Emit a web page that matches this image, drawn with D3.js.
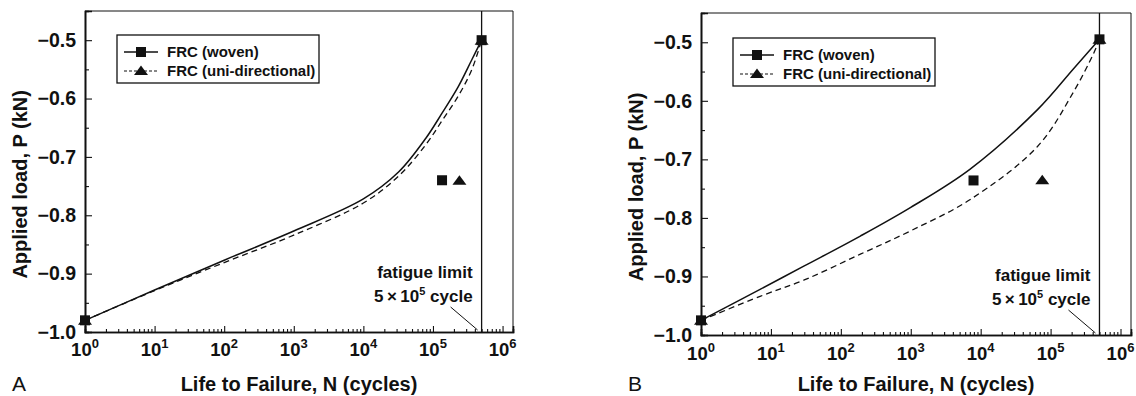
<!DOCTYPE html>
<html>
<head>
<meta charset="utf-8">
<script src="https://cdn.jsdelivr.net/npm/d3@7"></script>
<style>
  body { margin: 0; background: #fff; }
  svg { display: block; font-family: "Liberation Sans", Arial, sans-serif; }
</style>
</head>
<body>
<svg id="chart" width="1136" height="396"></svg>
<script>
// axis ticks
const xTickExps = [0, 1, 2, 3, 4, 5, 6];
const yTickValues = [-1.0, -0.9, -0.8, -0.7, -0.6, -0.5];
const yTickLabels = ["-1.0", "-0.9", "-0.8", "-0.7", "-0.6", "-0.5"];
const legendLabels = ["FRC (woven)", "FRC (uni-directional)"];
const fatigueLimitN = 5e5;

// panel A curves (N cycles, P kN)
const aWovenN = [1, 10, 100, 1000, 10000, 32000, 79000, 135000, 230000, 360000, 500000];
const aWovenP = [-0.98, -0.928, -0.877, -0.827, -0.772, -0.726, -0.668, -0.625, -0.580, -0.534, -0.50];
const aUniN = [1, 10, 100, 1000, 10000, 32000, 79000, 135000, 230000, 360000, 500000];
const aUniP = [-0.98, -0.929, -0.881, -0.834, -0.779, -0.733, -0.679, -0.638, -0.596, -0.551, -0.50];
// panel A markers
const aWovenMarkN = [1, 135000, 500000];
const aWovenMarkP = [-0.98, -0.74, -0.50];
const aUniMarkN = [1, 240000, 500000];
const aUniMarkP = [-0.98, -0.74, -0.50];

// panel B curves
const bWovenN = [1, 7, 30, 190, 1000, 7000, 65000, 210000, 500000];
const bWovenP = [-0.975, -0.922, -0.882, -0.831, -0.782, -0.717, -0.615, -0.546, -0.495];
const bUniN = [1, 7, 30, 190, 1000, 7000, 65000, 210000, 420000, 500000];
const bUniP = [-0.975, -0.934, -0.906, -0.862, -0.822, -0.769, -0.678, -0.586, -0.517, -0.495];
// panel B markers
const bWovenMarkN = [1, 7900, 500000];
const bWovenMarkP = [-0.975, -0.736, -0.495];
const bUniMarkN = [1, 76000, 500000];
const bUniMarkP = [-0.975, -0.735, -0.495];

const svg = d3.select("#chart");
const triPath = "M-7,4.5L7,4.5L0,-5Z";

function zip(ns, ps) { return ns.map((n, i) => ({ n: n, p: ps[i] })); }

function drawPanel(cfg) {
  const w = cfg.width, h = cfg.height;
  const g = svg.append("g").attr("transform", "translate(" + cfg.left + "," + cfg.top + ")");

  const x = d3.scaleLog().domain([1, Math.pow(10, 6.15)]).range([0, w]);
  const y = d3.scaleLinear().domain([-1.0, -0.45]).range([h, 0]);

  // frame: top and right
  g.append("line").attr("x1", 0).attr("x2", w).attr("y1", 0).attr("y2", 0)
    .attr("stroke", "#111").attr("stroke-width", 1);
  g.append("line").attr("x1", w).attr("x2", w).attr("y1", 0).attr("y2", h)
    .attr("stroke", "#111").attr("stroke-width", 1);

  // x axis, ticks inward
  const minorX = [];
  for (let k = 0; k < 6; k++) for (let m = 2; m <= 9; m++) minorX.push(m * Math.pow(10, k));
  const xMinor = g.append("g").attr("transform", "translate(0," + h + ")")
    .call(d3.axisBottom(x).tickValues(minorX).tickSize(-3).tickFormat(""));
  const xMajor = g.append("g").attr("transform", "translate(0," + h + ")")
    .call(d3.axisBottom(x).tickValues(xTickExps.map(e => Math.pow(10, e))).tickSize(-6).tickFormat(""));
  [xMinor, xMajor].forEach(a => {
    a.select(".domain").attr("stroke", "#111").attr("stroke-width", 1.6);
    a.selectAll(".tick line").attr("stroke", "#111").attr("stroke-width", 1.1);
  });

  xTickExps.forEach(e => {
    const t = g.append("text")
      .attr("x", x(Math.pow(10, e)))
      .attr("y", h + cfg.xLabelDy)
      .attr("text-anchor", "middle")
      .attr("font-weight", "bold")
      .attr("font-size", 18.5)
      .attr("fill", "#111");
    t.append("tspan").text("10");
    t.append("tspan").attr("font-size", 13).attr("dy", -8).text(e);
  });

  // y axis, ticks inward
  const yMinor = g.append("g")
    .call(d3.axisLeft(y).tickValues([-0.95, -0.85, -0.75, -0.65, -0.55]).tickSize(-4).tickFormat(""));
  const yMajor = g.append("g")
    .call(d3.axisLeft(y).tickValues(yTickValues).tickSize(-7).tickPadding(9)
      .tickFormat((d, i) => yTickLabels[i].replace("-", "\u2212")));
  [yMinor, yMajor].forEach(a => {
    a.select(".domain").attr("stroke", "#111").attr("stroke-width", 1.6);
    a.selectAll(".tick line").attr("stroke", "#111").attr("stroke-width", 1.1);
  });
  yMajor.selectAll(".tick text")
    .attr("font-family", "'Liberation Sans', Arial, sans-serif")
    .attr("font-weight", "bold").attr("font-size", 19.5).attr("fill", "#111");

  // fatigue limit vertical line
  const xf = x(fatigueLimitN);
  g.append("line").attr("x1", xf).attr("x2", xf).attr("y1", 0).attr("y2", h)
    .attr("stroke", "#111").attr("stroke-width", 1.3);

  // curves
  const line = d3.line().x(d => x(d.n)).y(d => y(d.p)).curve(d3.curveCatmullRom.alpha(0.5));
  g.append("path").datum(zip(cfg.wovenN, cfg.wovenP))
    .attr("d", line).attr("fill", "none").attr("stroke", "#111").attr("stroke-width", 1.5);
  g.append("path").datum(zip(cfg.uniN, cfg.uniP))
    .attr("d", line).attr("fill", "none").attr("stroke", "#111").attr("stroke-width", 1.3)
    .attr("stroke-dasharray", "6,4");

  // markers
  g.selectAll(null).data(zip(cfg.uniMarkN, cfg.uniMarkP)).enter().append("path")
    .attr("d", triPath)
    .attr("transform", d => "translate(" + x(d.n) + "," + y(d.p) + ")")
    .attr("fill", "#111");
  g.selectAll(null).data(zip(cfg.wovenMarkN, cfg.wovenMarkP)).enter().append("rect")
    .attr("x", d => x(d.n) - 5).attr("y", d => y(d.p) - 5)
    .attr("width", 10).attr("height", 10).attr("fill", "#111");

  // fatigue limit annotation
  const ann = g.append("g").attr("font-weight", "bold").attr("font-size", 17)
    .attr("fill", "#111").attr("text-anchor", "end");
  ann.append("text").attr("x", xf - 9).attr("y", h - 54).text("fatigue limit");
  const t2 = ann.append("text").attr("x", xf - 9).attr("y", h - 30);
  t2.append("tspan").text("5\u2009\u00d7\u200910");
  t2.append("tspan").attr("font-size", 11).attr("dy", -7).text("5");
  t2.append("tspan").attr("dy", 7).text(" cycle");
  g.append("line").attr("x1", xf - 31).attr("y1", h - 25).attr("x2", xf - 4).attr("y2", h - 2)
    .attr("stroke", "#111").attr("stroke-width", 1);

  // legend
  const lg = g.append("g").attr("transform", "translate(" + cfg.legendX + "," + cfg.legendY + ")");
  lg.append("rect").attr("width", 202).attr("height", 48)
    .attr("fill", "#fff").attr("stroke", "#111").attr("stroke-width", 1.3);
  legendLabels.forEach((lab, i) => {
    const ly = 17 + i * 19;
    lg.append("line").attr("x1", 7).attr("x2", 41).attr("y1", ly).attr("y2", ly)
      .attr("stroke", "#111").attr("stroke-width", i === 0 ? 1.5 : 1.2)
      .attr("stroke-dasharray", i === 0 ? null : "3,2");
    if (i === 0) {
      lg.append("rect").attr("x", 19).attr("y", ly - 5).attr("width", 10).attr("height", 10).attr("fill", "#111");
    } else {
      lg.append("path").attr("d", triPath).attr("transform", "translate(24," + (ly - 0.5) + ")").attr("fill", "#111");
    }
    lg.append("text").attr("x", 50).attr("y", ly + 5)
      .attr("font-weight", "bold").attr("font-size", 15).attr("fill", "#111").text(lab);
  });

  // axis titles
  g.append("text")
    .attr("transform", "translate(" + (-58) + "," + (h * 0.54) + ") rotate(-90)")
    .attr("text-anchor", "middle").attr("font-weight", "bold").attr("font-size", 20)
    .attr("fill", "#111").text("Applied load, P (kN)");
  g.append("text")
    .attr("x", w / 2).attr("y", 391 - cfg.top)
    .attr("text-anchor", "middle").attr("font-weight", "bold").attr("font-size", 20)
    .attr("fill", "#111").text("Life to Failure, N (cycles)");

  // panel letter
  svg.append("text").attr("x", cfg.letterX).attr("y", 391)
    .attr("font-size", 21).attr("fill", "#111").text(cfg.letter);
}

drawPanel({
  left: 85, top: 11, width: 428, height: 321, xLabelDy: 24,
  wovenN: aWovenN, wovenP: aWovenP, uniN: aUniN, uniP: aUniP,
  wovenMarkN: aWovenMarkN, wovenMarkP: aWovenMarkP, uniMarkN: aUniMarkN, uniMarkP: aUniMarkP,
  legendX: 32, legendY: 24, letter: "A", letterX: 12
});

drawPanel({
  left: 701, top: 13, width: 430, height: 322, xLabelDy: 25,
  wovenN: bWovenN, wovenP: bWovenP, uniN: bUniN, uniP: bUniP,
  wovenMarkN: bWovenMarkN, wovenMarkP: bWovenMarkP, uniMarkN: bUniMarkN, uniMarkP: bUniMarkP,
  legendX: 32, legendY: 25, letter: "B", letterX: 628
});
</script>
</body>
</html>
